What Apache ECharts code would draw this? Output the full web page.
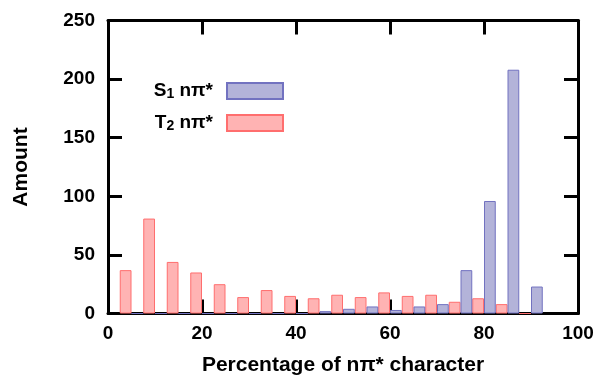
<!DOCTYPE html>
<html>
<head>
<meta charset="utf-8">
<script src="https://cdn.jsdelivr.net/npm/echarts@6/dist/echarts.min.js"></script>
<style>
html,body{margin:0;padding:0;background:#fff;}
#c{width:599px;height:376px;}
</style>
</head>
<body>
<div id="c"></div>
<script>
var bins = [5,10,15,20,25,30,35,40,45,50,55,60,65,70,75,80,85,90];
var t2Values = [37,81,44,35,25,14,20,15,13,16,14,18,15,16,10,13,8,0];
var s1Values = [0,0,0,0,0,0,0,0,2,4,6,3,6,8,37,96,208,23];
var xTicks = [0,20,40,60,80,100];
var yTicks = [0,50,100,150,200,250];

var FONT = "'Liberation Sans', Arial, Helvetica, sans-serif";
function pairs(vals){ return bins.map(function(b,i){ return [b, vals[i]]; }); }
function axisLine(){ return {show:true, onZero:false, lineStyle:{color:'#000', width:3}}; }
function tick(){ return {show:true, inside:true, length:14, lineStyle:{color:'#000', width:3}}; }
function label(margin){ return {fontSize:19, fontWeight:'bold', fontFamily:FONT, color:'#000', margin:margin}; }

var richText = {
  a:{fontSize:19, fontWeight:'bold', fontFamily:FONT, color:'#000', lineHeight:20, verticalAlign:'top'},
  s:{fontSize:14, fontWeight:'bold', fontFamily:FONT, color:'#000', lineHeight:14, padding:[8,0,0,0], verticalAlign:'bottom'}
};

var chart = echarts.init(document.getElementById('c'));
chart.setOption({
  animation:false,
  backgroundColor:'#fff',
  grid:{left:108, right:21, top:20.5, bottom:62.5, containLabel:false, outerBoundsMode:'none'},
  legend:{
    data:['S1','T2'],
    orient:'vertical',
    align:'right',
    right:310,
    top:74,
    itemWidth:56,
    itemHeight:16,
    itemGap:10,
    icon:'rect',
    textStyle:{rich:richText, padding:[0,9,0,0]},
    formatter:function(name){
      return '{a|' + name.charAt(0) + '}{s|' + name.charAt(1) + '}{a| n\u03c0*}';
    }
  },
  xAxis:[{
    type:'value', min:0, max:100, interval:20, position:'bottom',
    axisLine:axisLine(), axisTick:tick(), splitLine:{show:false},
    axisLabel:label(11),
    name:'Percentage of n\u03c0* character', nameLocation:'middle', nameGap:41.5,
    nameTextStyle:{fontSize:21, fontWeight:'bold', fontFamily:FONT, color:'#000'}
  },{
    type:'value', min:0, max:100, interval:20, position:'top',
    axisLine:axisLine(), axisTick:tick(), splitLine:{show:false}, axisLabel:{show:false}
  }],
  yAxis:[{
    type:'value', min:0, max:250, interval:50, position:'left',
    axisLine:axisLine(), axisTick:tick(), splitLine:{show:false},
    axisLabel:label(13),
    name:'Amount', nameLocation:'middle', nameGap:76, nameRotate:90,
    nameTextStyle:{fontSize:21, fontWeight:'bold', fontFamily:FONT, color:'#000'}
  },{
    type:'value', min:0, max:250, interval:50, position:'right',
    axisLine:axisLine(), axisTick:tick(), splitLine:{show:false}, axisLabel:{show:false}
  }],
  series:[{
    name:'T2', type:'bar', barWidth:11.75, barGap:'0%',
    itemStyle:{color:'#ffb3b3', borderColor:'#ff6e6e', borderWidth:1},
    data:pairs(t2Values)
  },{
    name:'S1', type:'bar', barWidth:11.75, barGap:'0%',
    itemStyle:{color:'#b3b3d9', borderColor:'#7272c0', borderWidth:1},
    data:pairs(s1Values)
  }]
});
</script>
</body>
</html>
